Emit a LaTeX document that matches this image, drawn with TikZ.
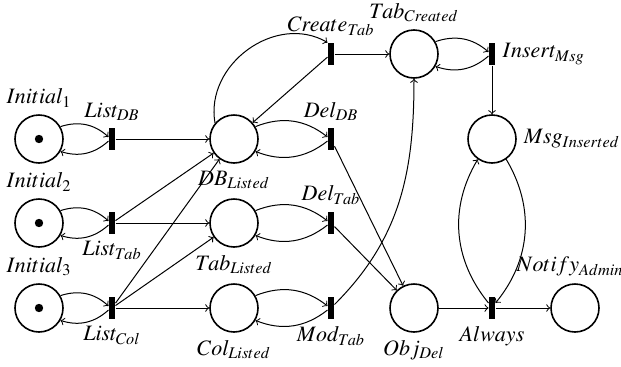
\documentclass[tikz,border=0pt]{standalone}
\usepackage{mathptmx}
\usepackage{tikz}
\tikzset{
    %Define standard arrow tip
    >=to,
    %Define style for places
    placenode/.style={
           circle,
           draw=black, line width=0.8pt,
           minimum size=24pt,
           inner sep=0pt},
    %Define style for transitions
    transnode/.style={
           rectangle,
           fill=black,
           minimum width=3pt,
           minimum height=11pt,
           inner sep=0pt},
    % Define style for tokens
    token/.style={
           fill=black},
    every label/.style={font=\fontsize{11}{13}\selectfont}
}

\begin{document}
\begin{tikzpicture}[->,x=0.5pt,y=0.5pt,line width=0.5pt]
\useasboundingbox (0,0) rectangle (621,366);

 %places
\node[placenode, label=above:$Initial_1$](p1) at (39,227) {};
\node[placenode, label=above:$Initial_2$](p2) at (39,143) {};
\node[placenode, label=above:$Initial_3$](p3) at (39,58) {};
\node[placenode, label=below:$DB_{Listed}$](p4) at (234,227) {};
\node[placenode, label=below:$Tab_{Listed}$](p5) at (234,143) {};
\node[placenode, label=below:$Col_{Listed}$](p6) at (234,58) {};
\node[placenode, label=above:$Tab_{Created}$](p7) at (414,312) {};
\node[placenode, label=right:$Msg_{Inserted}$](p8) at (492,227) {};
\node[placenode, label=below:$Obj_{Del}$](p9) at (414,58) {};
\node[placenode, label={[xshift=-2.5pt]above:$Notify_{Admin}$}](p10) at (575,58) {};

 %transitions
\node[transnode, label=above:$List_{DB}$](t1) at (112,227) {};
\node[transnode, label=below:$List_{Tab}$](t2) at (112,143) {};
\node[transnode, label=below:$List_{Col}$](t3) at (112,58) {};
\node[transnode, label=above:$Create_{Tab}$](t4) at (331,312) {};
\node[transnode, label=above:$Del_{DB}$](t5) at (331,227) {};
\node[transnode, label=above:$Del_{Tab}$](t6) at (331,143) {};
\node[transnode, label=below:$Mod_{Tab}$](t7) at (331,58) {};
\node[transnode, label=right:$Insert_{Msg}$](t8) at (492,312) {};
\node[transnode, label=below:$Always$](t9) at (492,58) {};

 %tokens
\fill[token,-] (p1.center) circle (2.1pt);
\fill[token,-] (p2.center) circle (2.1pt);
\fill[token,-] (p3.center) circle (2.1pt);

 %arcs
\path
    (p1) edge[bend left] (t1)
    (t1) edge[bend left] (p1)
         edge (p4)
    (p2) edge[bend left] (t2)
    (t2) edge[bend left] (p2)
         edge (p4)
         edge (p5)
    (p3) edge[bend left] (t3)
    (t3) edge[bend left] (p3)
         edge (p4)
         edge (p5)
         edge (p6)
    (p4) edge[bend left] (t5)
    (t5) edge[bend left] (p4)
         edge (p9)
    (p5) edge[bend left] (t6)
    (t6) edge[bend left] (p5)
         edge (p9)
    (p6) edge[bend left] (t7)
    (t7) edge[bend left] (p6)
         edge[out=45,in=-90] (p7)
    (p4.140) edge[out=100,in=150,looseness=1.1] (t4.north west)
    (t4) edge (p4)
         edge (p7)
    (p7) edge[bend left] (t8)
    (t8) edge[bend left] (p7)
         edge (p8)
    (t9) edge[bend left=35] (p8)
    (p8) edge[bend left=35] (t9)
    (p9) edge (t9)
    (t9) edge (p10);
\end{tikzpicture}
\end{document}
